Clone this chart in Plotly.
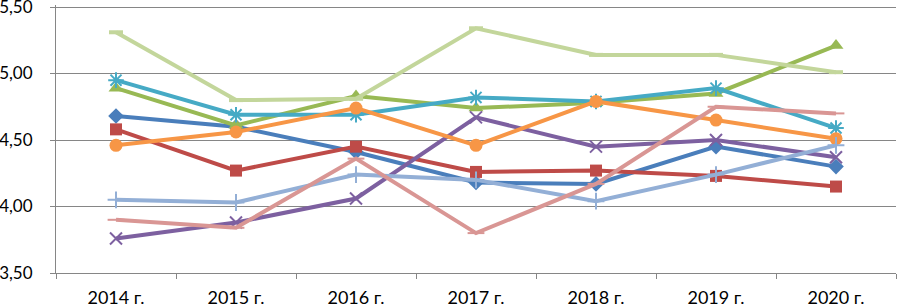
import plotly.graph_objects as go

years = ["2014 г.", "2015 г.", "2016 г.", "2017 г.", "2018 г.", "2019 г.", "2020 г."]

s_blue = [4.68, 4.60, 4.41, 4.18, 4.17, 4.45, 4.30]
s_red = [4.58, 4.27, 4.45, 4.26, 4.27, 4.23, 4.15]
s_green = [4.89, 4.61, 4.83, 4.74, 4.78, 4.85, 5.21]
s_purple = [3.76, 3.88, 4.06, 4.67, 4.45, 4.50, 4.37]
s_teal = [4.95, 4.69, 4.69, 4.82, 4.79, 4.89, 4.59]
s_orange = [4.46, 4.56, 4.74, 4.46, 4.79, 4.65, 4.51]
s_lightblue = [4.05, 4.03, 4.24, 4.20, 4.04, 4.24, 4.46]
s_pink = [3.90, 3.84, 4.36, 3.80, 4.17, 4.75, 4.70]
s_lightgreen = [5.31, 4.80, 4.81, 5.34, 5.14, 5.14, 5.01]

series = [
    (s_blue, "#4A7EBB", "diamond", 12, 0),
    (s_red, "#BE4B48", "square", 12, 0),
    (s_green, "#98B954", "triangle-up", 13, 0),
    (s_purple, "#7D60A0", "x-thin", 12, 2),
    (s_teal, "#46AAC5", "asterisk", 13, 2),
    (s_orange, "#F79646", "circle", 13, 0),
    (s_lightblue, "#93AFD6", "cross-thin", 12, 2),
    (s_pink, "#D99694", "line-ew", 12, 2),
    (s_lightgreen, "#C3D69B", "line-ew", 10, 4),
]

fig = go.Figure()
for vals, color, sym, size, lw in series:
    fig.add_trace(go.Scatter(
        x=years, y=vals, mode="lines+markers",
        line=dict(color=color, width=4),
        marker=dict(symbol=sym, size=size, color=color,
                    line=dict(color=color, width=lw)),
        showlegend=False, hoverinfo="skip",
    ))

fig.update_layout(
    width=899, height=307,
    margin=dict(l=56, r=3, t=5, b=34),
    paper_bgcolor="white", plot_bgcolor="white",
    font=dict(family="Lato", size=18, color="#000000"),
)
fig.update_xaxes(
    type="category", range=[-0.5, 6.5], tickson="boundaries",
    showline=True, linecolor="#868686", linewidth=1,
    ticks="outside", ticklen=5, tickcolor="#868686",
    showgrid=False, tickfont=dict(size=18), automargin=False,
    ticklabelstandoff=8,
)
fig.update_yaxes(
    range=[3.5, 5.515], tickvals=[3.5, 4.0, 4.5, 5.0, 5.5],
    ticktext=["3,50", "4,00", "4,50", "5,00", "5,50"],
    showline=True, linecolor="#868686", linewidth=1,
    ticks="outside", ticklen=5, tickcolor="#868686",
    showgrid=True, gridcolor="#868686", gridwidth=1,
    zeroline=False, ticklabelstandoff=14, tickfont=dict(size=17),
    automargin=False, ticklabeloverflow="allow",
)
fig.write_html(
    "out.html",
    config={"displayModeBar": False, "staticPlot": True},
    post_script="document.body.style.margin='0';document.body.style.padding='0';",
)
